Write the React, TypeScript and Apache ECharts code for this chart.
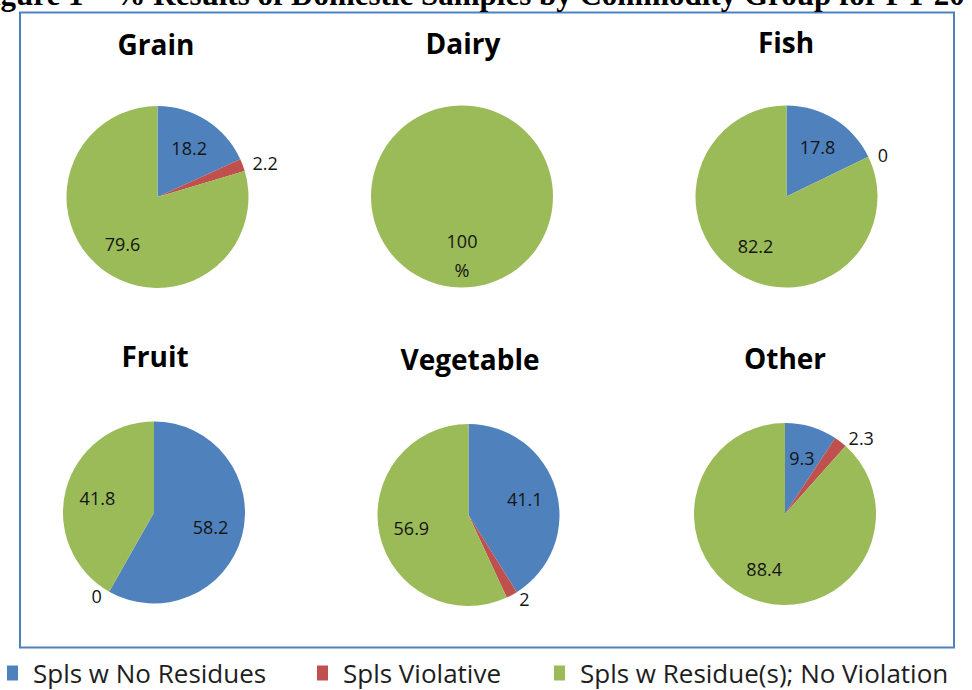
import React, { useEffect, useRef } from 'react';
import * as echarts from 'echarts';

// ---- data ----
const groups = ['Grain', 'Dairy', 'Fish', 'Fruit', 'Vegetable', 'Other'];
const categories = ['Spls w No Residues', 'Spls Violative', 'Spls w Residue(s); No Violation'];
const noResidues = [18.2, 0, 17.8, 58.2, 41.1, 9.3];
const violative = [2.2, 0, 0, 0, 2, 2.3];
const residueNoViolation = [79.6, 100, 82.2, 41.8, 56.9, 88.4];
const figureTitle = 'Figure 1 – % Results of Domestic Samples by Commodity Group for FY 20';

// ---- layout / style ----
const colors = ['#4F81BD', '#C0504D', '#9BBB59'];
const centers = [
  [157.5, 197], [462, 196.5], [786.5, 196.5],
  [154, 512.5], [468.5, 515], [785, 514],
];
const titlePos = [
  [156, 43.5], [463, 43], [786, 42],
  [155, 356], [470, 359], [785, 358],
];
const R = 91;
const legendLeft = [7, 317, 554];
const FONT = '"Open Sans", "Noto Sans", sans-serif';

export default function App() {
  const ref = useRef<HTMLDivElement>(null);

  useEffect(() => {
    document.body.style.margin = '0';
    if (!ref.current) return;
    const chart = echarts.init(ref.current, null, { renderer: 'svg' });

    const series: any[] = [];
    groups.forEach((g, i) => {
      const values = [noResidues[i], violative[i], residueNoViolation[i]];
      const hideZero = values.filter((v) => v > 0).length === 1;
      series.push({
        type: 'pie',
        name: g,
        center: centers[i],
        radius: [0, R],
        silent: true,
        avoidLabelOverlap: false,
        label: { show: false },
        labelLine: { show: false },
        data: values.map((v, k) => ({
          name: categories[k],
          value: v,
          itemStyle: { color: colors[k] },
        })),
      });
      // label carrier (transparent), places inner labels a bit further out
      series.push({
        type: 'pie',
        name: g + ' labels',
        center: centers[i],
        radius: [R * 0.22, R],
        silent: true,
        avoidLabelOverlap: false,
        itemStyle: { color: 'rgba(0,0,0,0)' },
        labelLine: { show: false, length: 5, length2: 0 },
        label: {
          fontFamily: FONT,
          fontSize: 18,
          color: '#141414',
          formatter: '{c}',
        },
        data: values.map((v, k) => ({
          name: categories[k],
          value: v,
          label: {
            show: !(hideZero && v === 0),
            position: v < 5 ? 'outside' : 'inside',
            formatter: v === 100 ? '{c}\n%' : '{c}',
            lineHeight: v === 100 ? 29 : 20,
          },
        })),
      });
    });

    const graphics: any[] = [
      {
        type: 'text',
        x: -27,
        y: -6,
        silent: true,
        style: {
          text: figureTitle,
          font: 'bold 31px "Liberation Serif", "Times New Roman", serif',
          fill: '#000',
          align: 'left',
          verticalAlign: 'middle',
        },
      },
      {
        type: 'rect',
        silent: true,
        z: -1,
        shape: { x: 20, y: 12.5, width: 934, height: 635 },
        style: { fill: 'none', stroke: '#4F81BD', lineWidth: 2 },
      },
    ];
    groups.forEach((g, i) => {
      graphics.push({
        type: 'text',
        x: titlePos[i][0],
        y: titlePos[i][1],
        silent: true,
        style: {
          text: g,
          font: 'bold 28px "Open Sans", "Noto Sans", sans-serif',
          fill: '#000',
          align: 'center',
          verticalAlign: 'middle',
        },
      });
    });

    chart.setOption({
      animation: false,
      backgroundColor: '#fff',
      legend: categories.map((name, k) => ({
        data: [{ name, itemStyle: { color: colors[k] } }],
        left: legendLeft[k],
        top: 660,
        padding: 0,
        icon: 'rect',
        itemWidth: 11,
        itemHeight: 15,
        itemGap: 0,
        selectedMode: false,
        textStyle: {
          fontFamily: FONT,
          fontSize: 26,
          lineHeight: 26,
          color: '#1e1e1e',
          padding: [0, 0, 0, 10],
        },
      })),
      graphic: { elements: graphics },
      series,
    });

    return () => chart.dispose();
  }, []);

  return <div ref={ref} style={{ width: 972, height: 690 }} />;
}
